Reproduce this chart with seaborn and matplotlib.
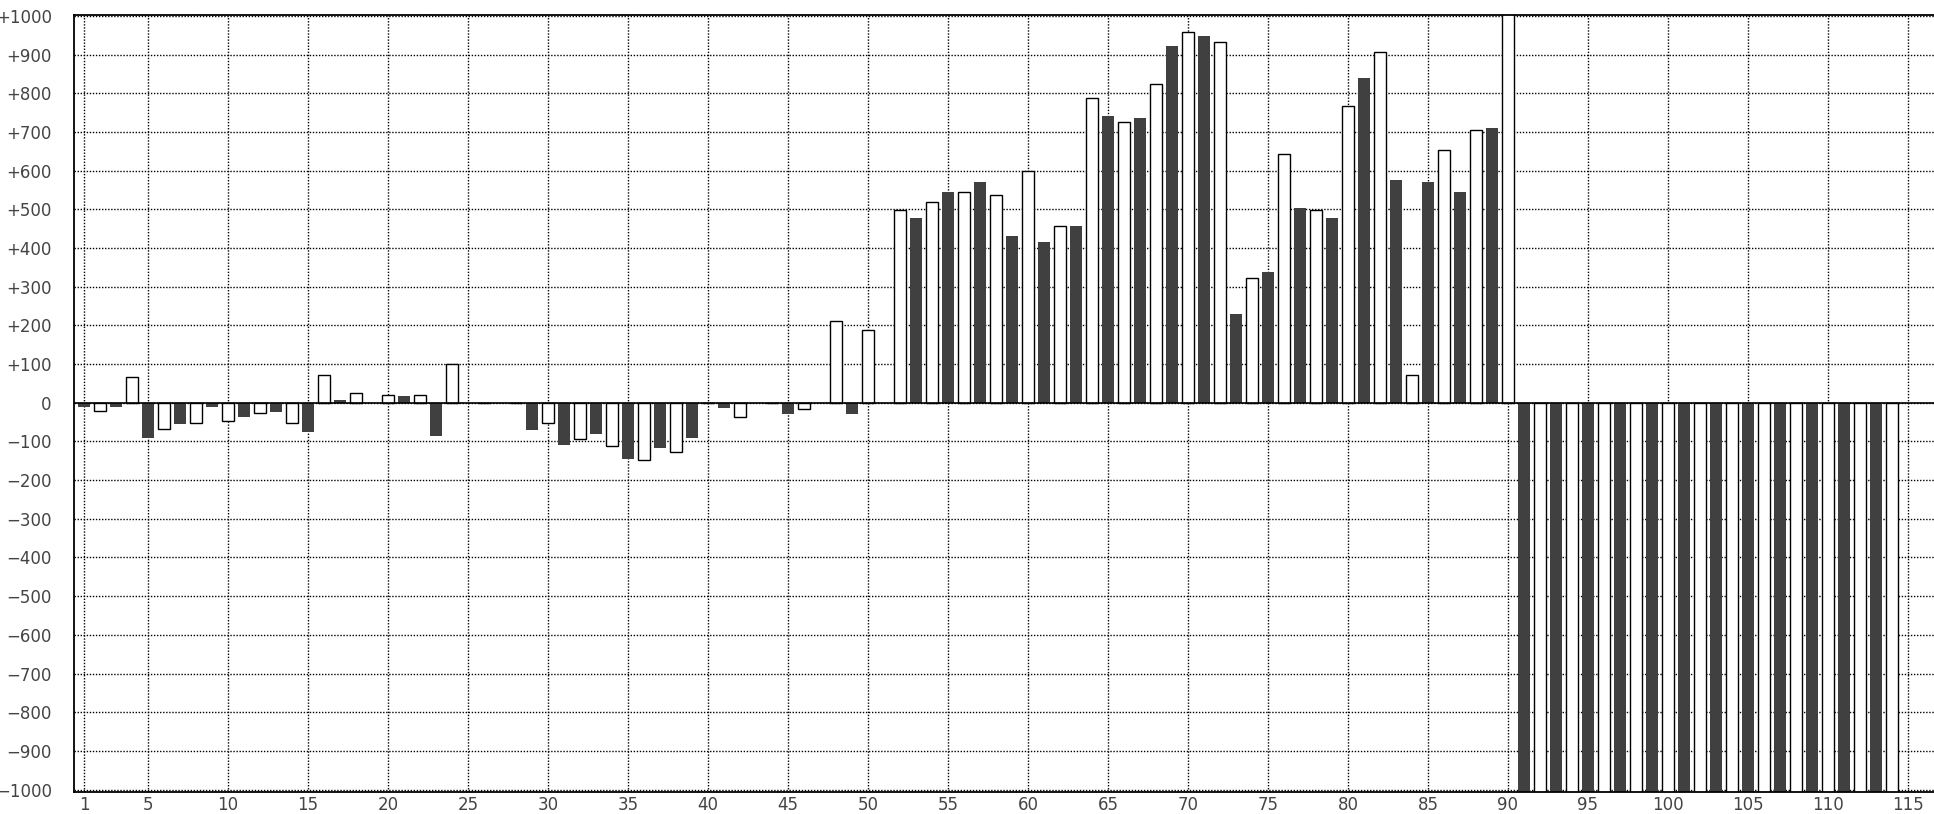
import matplotlib
matplotlib.use("Agg")
import matplotlib.pyplot as plt
import seaborn as sns
import pandas as pd

# ---- data -------------------------------------------------------------
# dark bars sit on odd positions 1,3,...,113 ; white bars on even positions 2,4,...,114
dark_positions = list(range(1, 114, 2))
dark_values = [-12, -12, -90, -54, -12, -38, -23, -75, 7, 0,
               17, -85, 0, 0, -71, -108, -82, -145, -118, -92,
               -13, 0, -29, 0, -29, 0, 477, 544, 571, 431,
               416, 457, 742, 737, 923, 949, 230, 338, 504, 477,
               840, 576, 571, 545, 711,
               -1100, -1100, -1100, -1100, -1100, -1100,
               -1100, -1100, -1100, -1100, -1100, -1100]
white_positions = list(range(2, 115, 2))
white_values = [-21, 67, -69, -52, -47, -27, -52, 72, 26, 21,
                21, 100, 0, 0, -53, -95, -112, -149, -127, 0,
                -38, 0, -17, 210, 188, 497, 518, 544, 538, 598,
                456, 787, 725, 823, 958, 932, 322, 642, 497, 766,
                906, 72, 652, 704, 1100,
                -1100, -1100, -1100, -1100, -1100, -1100,
                -1100, -1100, -1100, -1100, -1100, -1100]
x_tick_values = [1, 5, 10, 15, 20, 25, 30, 35, 40, 45, 50, 55, 60, 65, 70,
                 75, 80, 85, 90, 95, 100, 105, 110, 115]
y_tick_values = [1000, 900, 800, 700, 600, 500, 400, 300, 200, 100, 0,
                 -100, -200, -300, -400, -500, -600, -700, -800, -900, -1000]
y_tick_labels = ["+1000", "+900", "+800", "+700", "+600", "+500", "+400",
                 "+300", "+200", "+100", "0", "\u2212100", "\u2212200",
                 "\u2212300", "\u2212400", "\u2212500", "\u2212600",
                 "\u2212700", "\u2212800", "\u2212900", "\u22121000"]

# ---- figure -----------------------------------------------------------
sns.set_theme(style="white")
plt.rcParams['font.family'] = ['DejaVu Sans']

W, H = 1934, 814
fig = plt.figure(figsize=(W / 100, H / 100), dpi=100)
ax_left, ax_right, ax_top, ax_bottom = 74, 1934, 14.7, 792.3
ax = fig.add_axes([ax_left / W, (H - ax_bottom) / H,
                   (ax_right - ax_left) / W, (ax_bottom - ax_top) / H])

order = list(range(1, 115))
dark_df = pd.DataFrame({"pos": dark_positions, "value": dark_values})
white_df = pd.DataFrame({"pos": white_positions, "value": white_values})

sns.barplot(data=dark_df, x="pos", y="value", order=order, color="#404040",
            saturation=1, width=0.75, errorbar=None, linewidth=0,
            edgecolor="none", ax=ax, zorder=2)
sns.barplot(data=white_df, x="pos", y="value", order=order, color="white",
            saturation=1, width=0.70, errorbar=None, linewidth=1.0,
            edgecolor="black", ax=ax, zorder=2)

# category index i corresponds to position i+1
ax.set_xlim(0.375 - 1, 116.625 - 1)
ax.set_ylim(-1007, 1003)
ax.set_xticks([v - 1 for v in x_tick_values])
ax.set_xticklabels([str(v) for v in x_tick_values])
ax.set_yticks(y_tick_values)
ax.set_yticklabels(y_tick_labels)
ax.set_xlabel("")
ax.set_ylabel("")

ax.set_axisbelow(True)
ax.grid(True, which="major", axis="both", color="black",
        linestyle=(0, (1, 1.2)), linewidth=1.0)
ax.axhline(0, color="black", linewidth=1.2, zorder=3)

ax.tick_params(axis="both", length=0, labelsize=12, labelcolor="#444444")
ax.tick_params(axis="y", pad=16)
ax.tick_params(axis="x", pad=3)

for side in ["left", "top", "bottom"]:
    ax.spines[side].set_visible(True)
    ax.spines[side].set_color("black")
    ax.spines[side].set_linewidth(1.3)
ax.spines["right"].set_visible(False)

fig.savefig("out.png", dpi=100)
